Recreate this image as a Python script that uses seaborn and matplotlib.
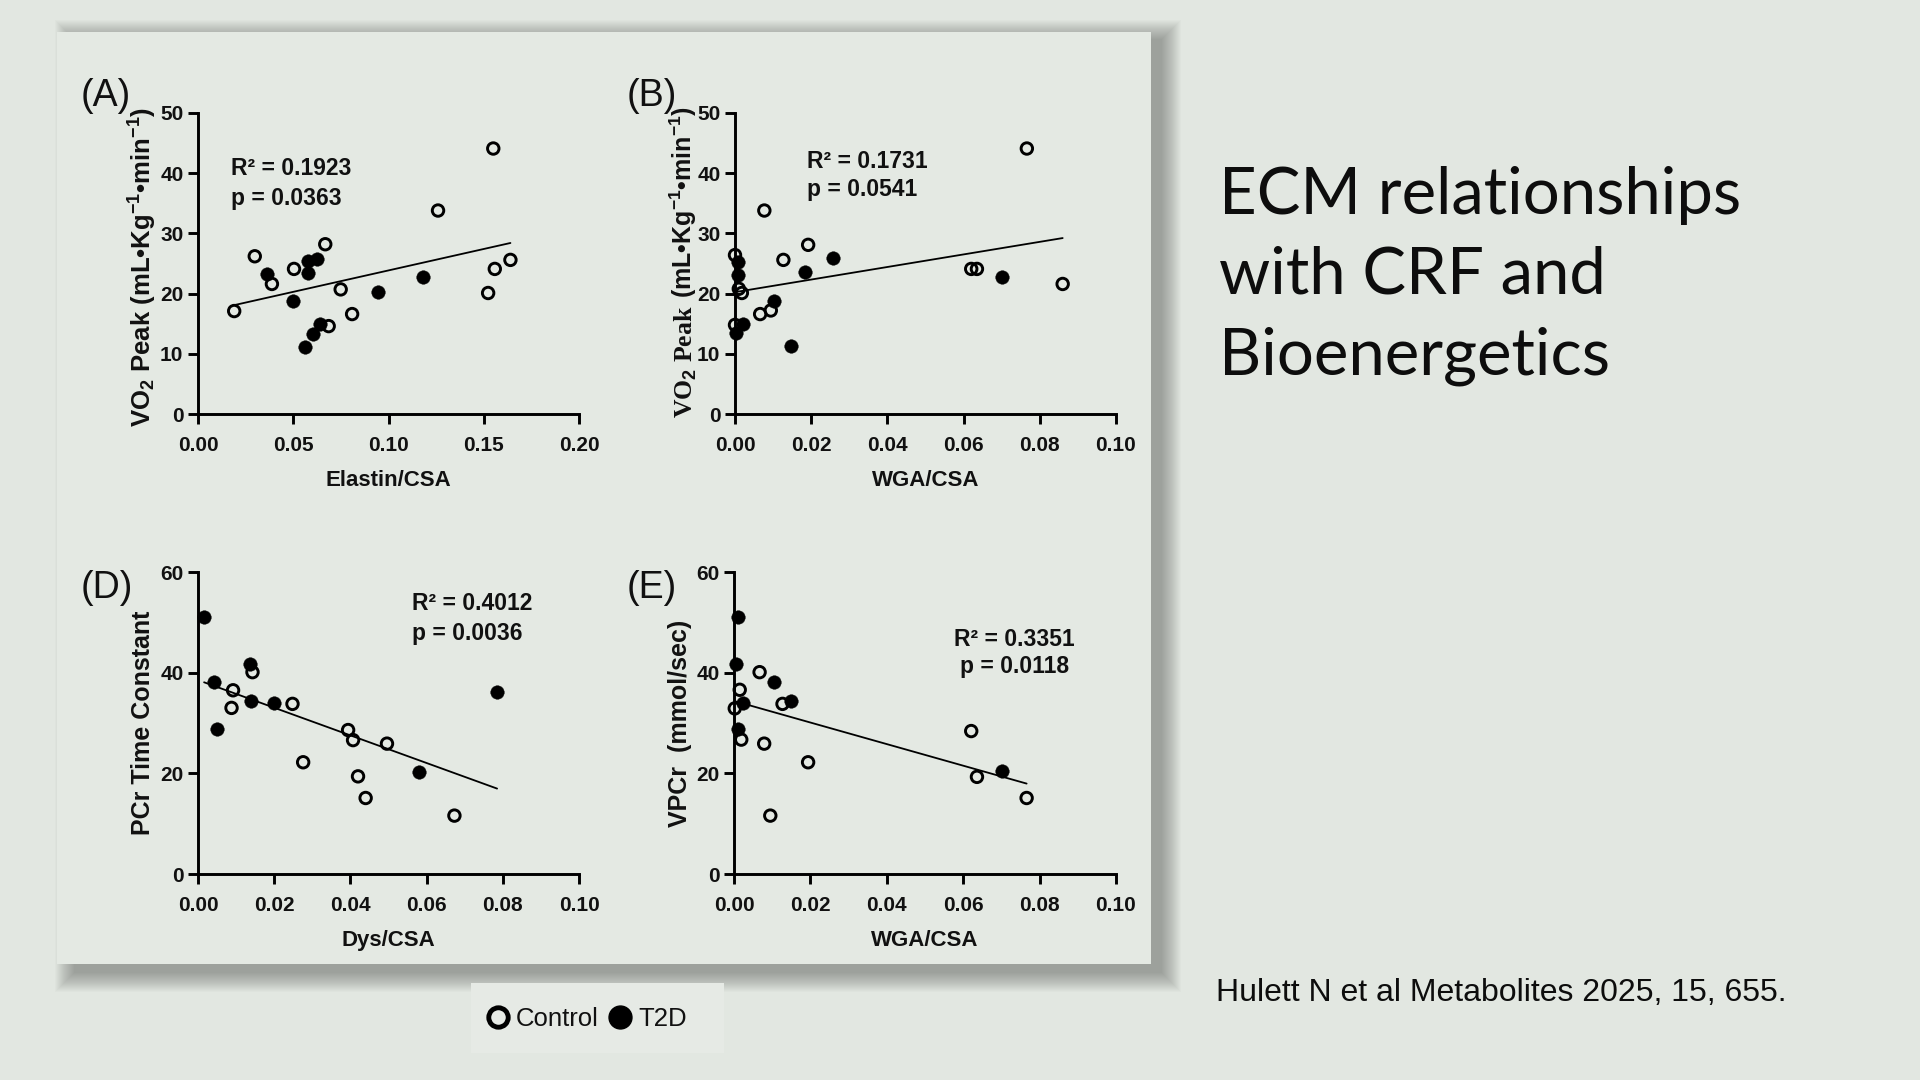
import numpy as np
import pandas as pd
import matplotlib
matplotlib.use("Agg")
import matplotlib.pyplot as plt
import seaborn as sns
from matplotlib.patches import Rectangle
from matplotlib.lines import Line2D

# (A) Elastin/CSA vs VO2 peak
a_ctrl_x = [0.019, 0.0298, 0.0388, 0.0504, 0.0668, 0.0749, 0.0809, 0.0686, 0.126, 0.155, 0.1558, 0.1523, 0.164]
a_ctrl_y = [17.1, 26.2, 21.6, 24.1, 28.2, 20.7, 16.6, 14.6, 33.8, 44.1, 24.1, 20.1, 25.6]
a_t2d_x = [0.036, 0.050, 0.0575, 0.058, 0.0623, 0.0561, 0.0605, 0.0642, 0.0946, 0.1182]
a_t2d_y = [23.2, 18.8, 23.5, 25.4, 25.8, 11.1, 13.3, 14.9, 20.2, 22.8]

# (B) WGA/CSA vs VO2 peak
b_ctrl_x = [0.0766, 0.0077, 0.0192, 0.0127, 0.062, 0.0635, 0.086, 0.0, 0.001, 0.0018, 0.0066, 0.0094, 0.0]
b_ctrl_y = [44.1, 33.8, 28.1, 25.6, 24.1, 24.1, 21.6, 26.4, 20.8, 20.1, 16.6, 17.2, 14.8]
b_t2d_x = [0.0256, 0.0185, 0.070, 0.0009, 0.0009, 0.0103, 0.0022, 0.0002, 0.0146]
b_t2d_y = [25.9, 23.6, 22.8, 25.3, 23.1, 18.8, 14.9, 13.5, 11.3]

# (D) Dys/CSA vs PCr time constant
d_ctrl_x = [0.0092, 0.0088, 0.0143, 0.0248, 0.0276, 0.0394, 0.0407, 0.042, 0.044, 0.0496, 0.0673]
d_ctrl_y = [36.5, 33.0, 40.1, 33.8, 22.2, 28.6, 26.6, 19.4, 15.1, 25.9, 11.6]
d_t2d_x = [0.0016, 0.0042, 0.0051, 0.0137, 0.0139, 0.020, 0.058, 0.0785]
d_t2d_y = [51.1, 38.2, 28.9, 41.8, 34.3, 33.9, 20.3, 36.2]

# (E) WGA/CSA vs VPCr
e_ctrl_x = [0.0067, 0.0015, 0.0002, 0.0127, 0.0019, 0.0079, 0.0194, 0.0095, 0.0621, 0.0636, 0.0766]
e_ctrl_y = [40.1, 36.6, 32.9, 33.8, 26.7, 25.9, 22.2, 11.6, 28.4, 19.3, 15.1]
e_t2d_x = [0.001, 0.0004, 0.0105, 0.0024, 0.0148, 0.001, 0.0701]
e_t2d_y = [51.1, 41.8, 38.1, 33.9, 34.4, 28.9, 20.4]

xticks_elastin = [0.0, 0.05, 0.10, 0.15, 0.20]
xticks_small = [0.0, 0.02, 0.04, 0.06, 0.08, 0.10]
yticks_vo2 = [0, 10, 20, 30, 40, 50]
yticks_pcr = [0, 20, 40, 60]

stats = {
    "A": ("R\u00b2 = 0.1923", "p = 0.0363"),
    "B": ("R\u00b2 = 0.1731", "p = 0.0541"),
    "D": ("R\u00b2 = 0.4012", "p = 0.0036"),
    "E": ("R\u00b2 = 0.3351", "p = 0.0118"),
}

BG = "#e2e7e1"
CARD = "#e4e9e3"
INK = "#111111"

sns.set_theme(style="ticks")
plt.rcParams["font.family"] = ["Liberation Sans", "DejaVu Sans"]
plt.rcParams["mathtext.fontset"] = "custom"
plt.rcParams["mathtext.rm"] = "Liberation Sans"
plt.rcParams["mathtext.bf"] = "Liberation Sans:bold"
plt.rcParams["mathtext.it"] = "Liberation Sans:italic"
plt.rcParams["axes.edgecolor"] = "black"
plt.rcParams["text.color"] = INK
plt.rcParams["axes.labelcolor"] = INK

W, H = 1920, 1080
fig = plt.figure(figsize=(19.2, 10.8), dpi=100, facecolor=BG)


def box(l, t, r, b):
    # pixel box (top-left origin) -> figure fraction rect
    return l / W, 1 - b / H, (r - l) / W, (b - t) / H


# card with soft shadow (mostly right / bottom)
cl, ct, cr, cb = 57, 32, 1151, 964
for i in range(1, 21):
    x0, y0, w, h = box(cl + 18 - i, ct + 8 - i, cr + 10 + i, cb + 8 + i)
    fig.add_artist(Rectangle((x0, y0), w, h, transform=fig.transFigure,
                             facecolor="black", edgecolor="none", alpha=0.015, zorder=-20))
x0, y0, w, h = box(cl, ct, cr, cb)
fig.add_artist(Rectangle((x0, y0), w, h, transform=fig.transFigure,
                         facecolor=CARD, edgecolor="none", zorder=-10))


def panel(rect, cx, cy, tx, ty, xticks, yticks, xlabel, key, tx_pos, centered=False):
    ax = fig.add_axes(box(*rect))
    ax.set_facecolor("none")
    ctrl = pd.DataFrame({"x": cx, "y": cy})
    t2d = pd.DataFrame({"x": tx, "y": ty})
    both = pd.concat([ctrl, t2d], ignore_index=True)
    sns.regplot(data=both, x="x", y="y", scatter=False, ci=None, color="black",
                line_kws={"linewidth": 1.3, "zorder": 2}, ax=ax)
    sns.scatterplot(data=ctrl, x="x", y="y", ax=ax, s=68, color="black", facecolor="none",
                    edgecolor="black", linewidth=2.1, clip_on=False, zorder=3)
    sns.scatterplot(data=t2d, x="x", y="y", ax=ax, s=95, color="black",
                    edgecolor="black", linewidth=0.3, clip_on=False, zorder=4)
    ax.set_xlim(xticks[0], xticks[-1])
    ax.set_ylim(yticks[0], yticks[-1])
    ax.set_xticks(xticks)
    ax.set_xticklabels([f"{v:.2f}" for v in xticks], fontsize=15, fontweight="bold", color=INK)
    ax.set_yticks(yticks)
    ax.set_yticklabels([str(v) for v in yticks], fontsize=15, fontweight="bold", color=INK)
    sns.despine(ax=ax)
    for s in ("left", "bottom"):
        ax.spines[s].set_linewidth(2.1)
        ax.spines[s].set_color("black")
    ax.tick_params(axis="both", width=2.1, length=7.5, color="black", direction="out")
    ax.tick_params(axis="x", pad=8)
    ax.tick_params(axis="y", pad=3)
    ax.set_xlabel(xlabel, fontsize=16, fontweight="bold", labelpad=11)
    ax.set_ylabel("")
    r2, p = stats[key]
    ha = "center" if centered else "left"
    ax.text(tx_pos[0], tx_pos[1], r2, transform=ax.transAxes, ha=ha, va="center",
            fontsize=16.5, fontweight="bold", color=INK)
    ax.text(tx_pos[0], tx_pos[2], p, transform=ax.transAxes, ha=ha, va="center",
            fontsize=16.5, fontweight="bold", color=INK)
    return ax


vo2_units = r"(mL•Kg$^{\mathbf{-1}}$•min$^{\mathbf{-1}}$)"

ax_a = panel((198, 113, 579, 414), a_ctrl_x, a_ctrl_y, a_t2d_x, a_t2d_y,
             xticks_elastin, yticks_vo2, "Elastin/CSA", "A", (0.087, 0.815, 0.717))
ax_a.set_ylabel(r"VO$_{\mathbf{2}}$ Peak " + vo2_units, fontsize=18.5, fontweight="bold")
ax_a.yaxis.set_label_coords(-0.103, 0.49)

ax_b = panel((735, 113, 1116, 414), b_ctrl_x, b_ctrl_y, b_t2d_x, b_t2d_y,
             xticks_small, yticks_vo2, "WGA/CSA", "B", (0.19, 0.839, 0.745))
ax_b.text(-0.112, -0.014, r"VO$_{\mathbf{2}}$ Peak", transform=ax_b.transAxes, rotation=90,
          rotation_mode="anchor", ha="left", va="baseline", fontsize=18.5, fontweight="bold",
          family=["Liberation Serif", "DejaVu Serif"], color=INK)
ax_b.text(-0.112, 0.386, vo2_units, transform=ax_b.transAxes, rotation=90,
          rotation_mode="anchor", ha="left", va="baseline", fontsize=18, fontweight="bold", color=INK)

ax_d = panel((198, 572, 579, 874), d_ctrl_x, d_ctrl_y, d_t2d_x, d_t2d_y,
             xticks_small, yticks_pcr, "Dys/CSA", "D", (0.562, 0.896, 0.796))
ax_d.set_ylabel("PCr Time Constant", fontsize=18, fontweight="bold")
ax_d.yaxis.set_label_coords(-0.113, 0.5)

ax_e = panel((734, 572, 1116, 874), e_ctrl_x, e_ctrl_y, e_t2d_x, e_t2d_y,
             xticks_small, yticks_pcr, "WGA/CSA", "E", (0.734, 0.776, 0.686), centered=True)
ax_e.set_ylabel("VPCr  (mmol/sec)", fontsize=18, fontweight="bold")
ax_e.yaxis.set_label_coords(-0.11, 0.5)

# panel letters
for lab, (px, py) in {"(A)": (81, 106), "(B)": (627, 106), "(D)": (81, 598), "(E)": (627, 598)}.items():
    fig.text(px / W, 1 - py / H, lab, fontsize=27, ha="left", va="baseline", color=INK)

# legend box under the card
x0, y0, w, h = box(471, 983, 724, 1053)
fig.add_artist(Rectangle((x0, y0), w, h, transform=fig.transFigure,
                         facecolor="#e6eae5", edgecolor="none", zorder=-5))
handles = [
    Line2D([], [], marker="o", linestyle="none", markersize=14, markerfacecolor="none",
           markeredgecolor="black", markeredgewidth=3.5, label="Control"),
    Line2D([], [], marker="o", linestyle="none", markersize=16.5, markerfacecolor="black",
           markeredgecolor="black", label="T2D"),
]
fig.legend(handles=handles, loc="center", bbox_to_anchor=(586 / W, 1 - 1019 / H), ncol=2,
           frameon=False, fontsize=18.5, handlelength=1.0, handletextpad=0.2, columnspacing=0.35,
           borderpad=0)

# slide text
title_lines = ["ECM relationships", "with CRF and", "Bioenergetics"]
for line, base in zip(title_lines, [214, 294, 374]):
    fig.text(1219 / W, 1 - base / H, line, fontsize=47, family=["Lato", "DejaVu Sans"],
             ha="left", va="baseline", color="#0d0d0d")
fig.text(1216 / W, 1 - 1001 / H, "Hulett N et al Metabolites 2025, 15, 655.", fontsize=23,
         ha="left", va="baseline", color="#0d0d0d")

fig.savefig("out.png", dpi=100, facecolor=BG)
